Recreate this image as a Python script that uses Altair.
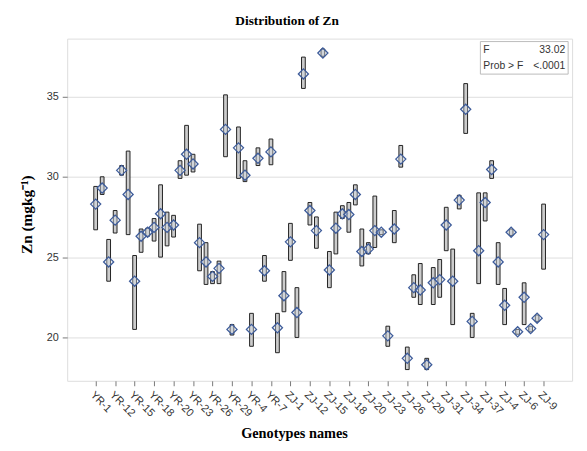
import altair as alt
import pandas as pd
import json

genotypes = [
    "YR-1", "YR-10", "YR-11", "YR-12", "YR-13", "YR-14", "YR-15", "YR-16", "YR-17", "YR-18",
    "YR-19", "YR-2", "YR-20", "YR-21", "YR-22", "YR-23", "YR-24", "YR-25", "YR-26", "YR-27",
    "YR-28", "YR-29", "YR-3", "YR-30", "YR-4", "YR-5", "YR-6", "YR-7", "YR-8", "YR-9",
    "ZJ-1", "ZJ-10", "ZJ-11", "ZJ-12", "ZJ-13", "ZJ-14", "ZJ-15", "ZJ-16", "ZJ-17", "ZJ-18",
    "ZJ-19", "ZJ-2", "ZJ-20", "ZJ-21", "ZJ-22", "ZJ-23", "ZJ-24", "ZJ-25", "ZJ-26", "ZJ-27",
    "ZJ-28", "ZJ-29", "ZJ-3", "ZJ-30", "ZJ-31", "ZJ-32", "ZJ-33", "ZJ-34", "ZJ-35", "ZJ-36",
    "ZJ-37", "ZJ-38", "ZJ-39", "ZJ-4", "ZJ-40", "ZJ-5", "ZJ-6", "ZJ-7", "ZJ-8", "ZJ-9",
]
means = [
    28.3, 29.3, 24.7, 27.3, 30.4, 28.9, 23.5, 26.3, 26.55, 26.85,
    27.7, 26.85, 27.0, 30.4, 31.4, 30.8, 25.9, 24.7, 23.8, 24.3,
    32.95, 20.5, 31.8, 30.1, 20.5, 31.15, 24.15, 31.55, 20.6, 22.6,
    25.95, 21.55, 36.4, 27.9, 26.65, 37.7, 24.2, 26.8, 27.7, 27.65,
    28.9, 25.35, 25.5, 26.65, 26.55, 20.1, 26.75, 31.1, 18.7, 23.1,
    22.95, 18.3, 23.4, 23.6, 27.0, 23.5, 28.55, 34.2, 21.0, 25.4,
    28.4, 30.45, 24.7, 22.0, 26.55, 20.35, 22.5, 20.55, 21.2, 26.4,
]
lows = [
    26.7, 28.9, 23.5, 26.5, 30.1, 26.4, 20.5, 25.3, 26.3, 26.0,
    25.0, 25.7, 26.25, 29.9, 30.1, 30.3, 24.15, 23.3, 23.35, 23.35,
    31.25, 20.15, 29.9, 29.7, 19.45, 30.7, 23.5, 30.75, 19.05, 21.6,
    24.8, 20.0, 35.5, 27.0, 25.55, 37.5, 23.1, 25.2, 27.4, 26.55,
    28.25, 24.45, 25.2, 25.6, 26.4, 19.45, 25.9, 30.6, 18.0, 22.5,
    22.05, 18.0, 22.05, 22.5, 25.4, 20.8, 28.0, 32.7, 20.0, 23.35,
    27.25, 29.9, 23.3, 20.8, 26.35, 20.2, 20.8, 20.35, 21.0, 24.25,
]
highs = [
    29.4, 30.0, 26.1, 27.9, 30.7, 31.6, 25.1, 26.75, 26.8, 27.4,
    29.5, 27.8, 27.6, 31.0, 33.2, 31.4, 27.05, 25.9, 24.1, 24.75,
    35.1, 20.8, 33.1, 31.0, 21.5, 31.8, 25.1, 32.35, 21.5, 24.1,
    27.1, 23.1, 37.45, 28.4, 27.5, 37.95, 25.35, 27.8, 28.2, 28.4,
    29.5, 26.75, 25.9, 28.8, 26.7, 20.7, 27.9, 31.95, 19.4, 23.9,
    24.6, 18.7, 24.35, 24.85, 28.1, 25.5, 28.85, 35.8, 21.5, 29.0,
    29.0, 31.0, 25.9, 23.05, 26.75, 20.5, 23.4, 20.7, 21.4, 28.3,
]
shown_labels = [
    "YR-1", "YR-12", "YR-15", "YR-18", "YR-20", "YR-23", "YR-26", "YR-29", "YR-4", "YR-7",
    "ZJ-1", "ZJ-12", "ZJ-15", "ZJ-18", "ZJ-20", "ZJ-23", "ZJ-26", "ZJ-29", "ZJ-31", "ZJ-34",
    "ZJ-37", "ZJ-4", "ZJ-6", "ZJ-9",
]
y_ticks = [20, 25, 30, 35]
inset_left = ["F", "Prob > F"]
inset_right = ["33.02", "<.0001"]

df = pd.DataFrame({
    "g": genotypes,
    "pos": list(range(len(genotypes))),
    "mean": means,
    "lo": lows,
    "hi": highs,
})

SANS = "Liberation Sans"
SERIF = "Liberation Serif"

n = len(genotypes)
pad = 3.63
tick_positions = [genotypes.index(s) for s in shown_labels]
label_expr = json.dumps(genotypes) + "[round(datum.value)]"

x_scale = alt.Scale(domain=[-pad, n - 1 + pad], nice=False, zero=False)
x_axis = alt.Axis(
    values=tick_positions,
    tickCount=200,
    labelExpr=label_expr,
    labelAngle=45,
    labelAlign="left",
    labelBaseline="top",
    labelFont=SANS,
    labelFontSize=11,
    labelColor="#333333",
    labelPadding=3,
    labelOverlap=False,
    labelFlush=False,
    tickColor="#777777",
    tickSize=5,
    domain=False,
    grid=False,
    title="Genotypes names",
    titleFont=SERIF,
    titleFontSize=14.5,
    titleFontWeight="bold",
    titleColor="black",
    titleX=230,
    titleY=57,
    titleBaseline="alphabetic",
)
y_scale = alt.Scale(domain=[17.3, 38.6], nice=False, zero=False)
y_axis = alt.Axis(
    values=y_ticks,
    labelFont=SANS,
    labelFontSize=11,
    labelColor="#333333",
    tickColor="#777777",
    tickSize=5,
    labelPadding=4,
    domain=False,
    grid=True,
    gridColor="#dddddd",
    title="Zn (mgkg⁻¹)",
    titleFont=SERIF,
    titleFontSize=15.5,
    titleFontWeight="bold",
    titleColor="black",
    titleX=-36,
    titleY=178,
    titleBaseline="alphabetic",
)

base = alt.Chart(df)

boxes = base.mark_bar(size=3.8, fill="#cccccc", stroke="#222222", strokeWidth=1).encode(
    x=alt.X("pos:Q", scale=x_scale, axis=x_axis),
    y=alt.Y("lo:Q", scale=y_scale, axis=y_axis),
    y2="hi:Q",
)

diamonds = base.mark_point(
    shape="diamond", size=105, filled=False, stroke="#3e5c9a", strokeWidth=1.3,
    fill="#dbe4f3", fillOpacity=0.35,
).encode(
    x=alt.X("pos:Q"),
    y=alt.Y("mean:Q"),
    tooltip=["g:N", "mean:Q"],
)

inset_df = pd.DataFrame({"a": [0]})
inset_box = alt.Chart(inset_df).mark_rect(fill="white", stroke="#bbbbbb", strokeWidth=1).encode(
    x=alt.value(419), x2=alt.value(508), y=alt.value(3), y2=alt.value(36)
)
inset_layers = [inset_box]
for k in range(2):
    ypos = 15 + k * 15.5
    inset_layers.append(
        alt.Chart(pd.DataFrame({"t": [inset_left[k]]})).mark_text(
            align="left", baseline="alphabetic", font=SANS, fontSize=10.5, color="#333333"
        ).encode(x=alt.value(422), y=alt.value(ypos), text="t:N")
    )
    inset_layers.append(
        alt.Chart(pd.DataFrame({"t": [inset_right[k]]})).mark_text(
            align="right", baseline="alphabetic", font=SANS, fontSize=10.5, color="#333333"
        ).encode(x=alt.value(505), y=alt.value(ypos), text="t:N")
    )

chart = alt.layer(boxes, diamonds, *inset_layers).properties(
    width=512,
    height=347,
    title=alt.TitleParams(
        "Distribution of Zn", font=SERIF, fontSize=13.5, fontWeight="bold",
        color="black", anchor="middle", dx=-33, offset=11,
    ),
    autosize=alt.AutoSizeParams(type="none"),
    padding={"left": 60, "top": 28, "right": 7, "bottom": 60},
).configure_view(stroke="#999999", strokeWidth=1).configure(background="white")

chart.save("out.html", embed_options={"renderer": "svg", "actions": False})
